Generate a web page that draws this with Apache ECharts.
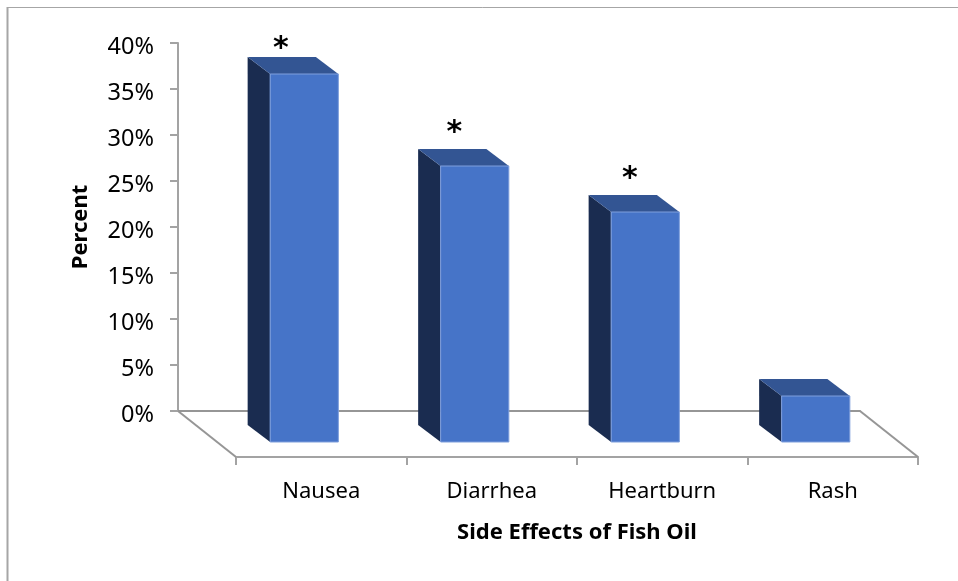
<!DOCTYPE html>
<html><head><meta charset="utf-8">
<style>html,body{margin:0;padding:0;background:#fff}#c{width:958px;height:581px}</style>
<script src="https://cdn.jsdelivr.net/npm/echarts@6/dist/echarts.min.js"></script>
</head><body><div id="c"></div>
<script>
const categories = ['Nausea', 'Diarrhea', 'Heartburn', 'Rash'];
const percentValues = [40, 30, 25, 5];
const starred = ['Nausea', 'Diarrhea', 'Heartburn'];
const xAxisTitle = 'Side Effects of Fish Oil';
const yAxisTitle = 'Percent';

const FONT = '"Noto Sans", sans-serif';
const AXIS = '#a3a3a3', FLOOR = '#969696';
const FRONT = '#4674c8', SIDE = '#1a2c50', TOP = '#335593', EDGE = '#7f9fdc';
// 3D projection, in pixels
const FLOOR_DX = 58, FLOOR_DY = 46, BAR_DX = 22.5, BAR_DY = 17, FACE_DX = -17, FACE_DY = -15;
const WIDTH_RATIO = 0.4;
// hand-placed star nudges relative to the back top edge of each bar
const STAR_NUDGE = [[-1, -8], [2, -16], [7, -16]];

function renderFloor(params, api) {
  const r = params.coordSys;
  const b = r.y + r.height, style = { stroke: FLOOR, lineWidth: 2, fill: null };
  return { type: 'group', children: [
    { type: 'line', shape: { x1: r.x, y1: b, x2: r.x - FLOOR_DX, y2: b - FLOOR_DY }, style },
    { type: 'line', shape: { x1: r.x + r.width, y1: b, x2: r.x + r.width - FLOOR_DX, y2: b - FLOOR_DY }, style }
  ]};
}
function renderBar(params, api) {
  const base = api.coord([api.value(0), 0]);
  const top = api.coord([api.value(0), api.value(1)]);
  const w = api.size([1, 0])[0] * WIDTH_RATIO;
  const l = base[0] + FACE_DX - w / 2, r = l + w, yt = top[1] + FACE_DY, yb = base[1] + FACE_DY;
  return { type: 'group', children: [
    { type: 'polygon', shape: { points: [[l, yt], [l - BAR_DX, yt - BAR_DY], [l - BAR_DX, yb - BAR_DY], [l, yb]] },
      style: { fill: SIDE } },
    { type: 'polygon', shape: { points: [[l, yt], [l - BAR_DX, yt - BAR_DY], [r - BAR_DX, yt - BAR_DY], [r, yt]] },
      style: { fill: TOP } },
    { type: 'rect', shape: { x: l, y: yt, width: w, height: yb - yt },
      style: { fill: FRONT, stroke: EDGE, lineWidth: 1 } }
  ]};
}
function renderStar(params, api) {
  const i = api.value(0);
  const top = api.coord([i, api.value(1)]);
  const n = STAR_NUDGE[i];
  return { type: 'text', style: {
    x: top[0] + FACE_DX - BAR_DX + n[0], y: top[1] + FACE_DY - BAR_DY + n[1],
    text: '*', fill: '#000', font: 'bold 30px "DejaVu Sans", sans-serif',
    align: 'center', verticalAlign: 'middle' } };
}

const chart = echarts.init(document.getElementById('c'), null, { renderer: 'canvas' });
chart.setOption({
  animation: false,
  backgroundColor: '#fff',
  grid: [
    { left: 178, top: 43, width: 682, height: 368 },
    { left: 236, top: 89, width: 682, height: 368 }
  ],
  xAxis: [
    { type: 'category', gridIndex: 0, data: categories,
      axisLine: { show: true, lineStyle: { color: FLOOR, width: 2 } },
      axisTick: { show: false }, axisLabel: { show: false } },
    { type: 'category', gridIndex: 1, data: categories,
      name: xAxisTitle, nameLocation: 'middle', nameGap: 65,
      nameTextStyle: { fontFamily: FONT, fontWeight: 'bold', fontSize: 22, color: '#000' },
      axisLine: { show: true, lineStyle: { color: AXIS, width: 2 } },
      axisTick: { show: true, length: 8, lineStyle: { color: AXIS, width: 2 } },
      axisLabel: { fontFamily: FONT, fontSize: 22, color: '#000', margin: 24 } }
  ],
  yAxis: [
    { type: 'value', gridIndex: 0, min: 0, max: 40, interval: 5,
      name: yAxisTitle, nameLocation: 'middle', nameGap: 86, nameRotate: 90,
      nameTextStyle: { fontFamily: FONT, fontWeight: 'bold', fontSize: 22, color: '#000' },
      axisLine: { show: true, lineStyle: { color: AXIS, width: 2 } },
      axisTick: { show: true, length: 8, lineStyle: { color: AXIS, width: 2 } },
      splitLine: { show: false },
      axisLabel: { fontFamily: FONT, fontSize: 23.5, color: '#000', margin: 24, verticalAlign: 'top', lineHeight: 8, formatter: '{value}%' } },
    { type: 'value', gridIndex: 1, min: 0, max: 40, interval: 5, show: false, splitLine: { show: false } }
  ],
  series: [
    { type: 'custom', xAxisIndex: 1, yAxisIndex: 1, z: 3, silent: true, renderItem: renderFloor, data: [[0, 0]] },
    { type: 'custom', xAxisIndex: 1, yAxisIndex: 1, z: 5, silent: true, renderItem: renderBar,
      data: categories.map((c, i) => [i, percentValues[i]]) },
    { type: 'custom', xAxisIndex: 1, yAxisIndex: 1, z: 6, silent: true, renderItem: renderStar,
      data: starred.map(c => [categories.indexOf(c), percentValues[categories.indexOf(c)]]) }
  ],
  graphic: [
    { type: 'line', silent: true, z: 1, shape: { x1: 7.5, y1: 7.5, x2: 958, y2: 7.5 }, style: { stroke: '#a6a6a6', lineWidth: 1 } },
    { type: 'line', silent: true, z: 1, shape: { x1: 7.5, y1: 7, x2: 7.5, y2: 581 }, style: { stroke: '#a6a6a6', lineWidth: 2 } }
  ]
});
</script></body></html>
